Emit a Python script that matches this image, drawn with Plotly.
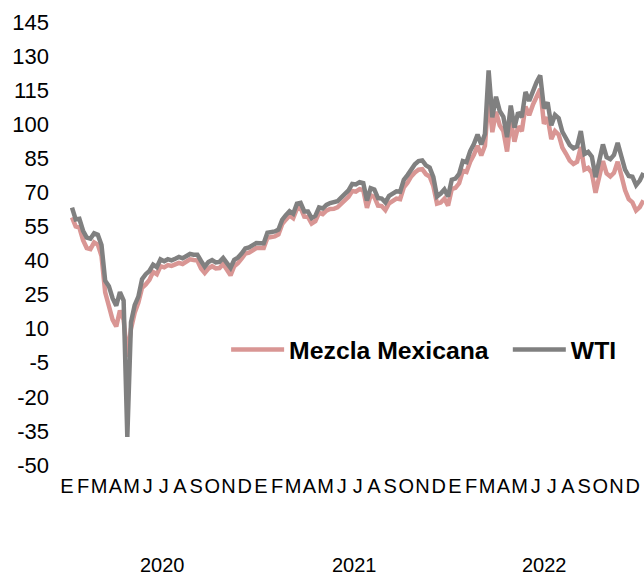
import pandas as pd
import plotly.graph_objects as go

# Weekly (Monday) observations, Jan 2020 - Dec 2022
dates = pd.date_range("2020-01-06", "2022-12-26", freq="W-MON")

wti = [
    # 2020
    63.3, 58.1, 58.4, 53.1, 50.1, 49.6, 52.0, 51.4, 46.8, 31.1, 28.7, 23.4, 20.1,
    26.1, 22.4, -37.6, 12.8, 20.4, 24.1, 31.8, 34.0, 35.4, 38.2, 37.1, 40.5, 39.7,
    40.6, 40.1, 40.8, 41.6, 41.0, 41.9, 42.9, 42.6, 42.6, 39.8, 37.3, 39.3, 40.2,
    39.2, 39.4, 41.1, 38.6, 36.8, 40.3, 41.3, 43.1, 45.3, 45.8, 46.9, 47.7, 47.6,
    # 2021
    47.6, 52.2, 52.4, 52.8, 53.6, 57.9, 60.0, 61.7, 60.6, 65.0, 65.4, 61.6, 61.6,
    58.7, 59.7, 63.4, 62.9, 64.5, 65.3, 65.5, 66.1, 67.7, 69.2, 70.9, 73.7, 73.5,
    74.5, 74.1, 66.4, 71.9, 71.3, 67.5, 67.3, 65.6, 68.5, 69.3, 70.5, 70.3, 75.5,
    77.6, 80.5, 82.4, 83.8, 84.1, 81.9, 80.9, 76.8, 68.2, 69.5, 71.3, 68.2, 75.6,
    # 2022
    76.1, 78.2, 83.8, 83.3, 88.2, 91.3, 95.5, 91.1, 95.7, 123.7, 103.0, 112.1, 105.9,
    103.3, 94.3, 108.2, 98.5, 105.2, 103.1, 114.2, 110.3, 115.0, 118.5, 121.5, 107.0,
    109.6, 99.5, 104.1, 102.6, 96.7, 93.9, 90.8, 89.4, 90.2, 97.0, 86.9, 87.8, 85.7,
    76.7, 83.6, 91.1, 85.5, 84.6, 86.5, 91.8, 85.9, 80.0, 77.2, 76.9, 73.2, 75.2, 78.5,
]

mezcla = [
    # 2020
    59.0, 55.0, 54.5, 49.0, 45.5, 45.0, 48.0, 47.0, 42.0, 26.0, 20.0, 14.0, 11.0,
    18.0, 14.0, -2.4, 10.0, 17.0, 21.5, 28.0, 29.5, 31.5, 35.0, 34.0, 37.5, 37.0,
    38.0, 37.6, 38.3, 39.0, 38.5, 39.3, 40.5, 40.2, 40.0, 36.5, 34.5, 36.5, 37.5,
    36.5, 36.7, 38.5, 35.8, 33.5, 37.5, 38.8, 40.8, 43.0, 43.5, 44.7, 45.5, 45.5,
    # 2021
    45.5, 50.0, 50.3, 50.6, 51.5, 56.0, 58.0, 59.8, 58.6, 62.8, 63.2, 59.3, 59.2,
    56.3, 57.3, 61.0, 60.4, 62.0, 62.7, 62.8, 63.4, 65.0, 66.4, 68.0, 70.6, 70.3,
    71.4, 71.0, 63.2, 68.7, 68.0, 64.2, 64.0, 62.2, 65.2, 66.0, 67.3, 67.0, 72.2,
    74.2, 77.0, 78.8, 80.0, 80.2, 78.0, 77.0, 72.8, 65.0, 65.5, 67.2, 64.2, 71.5,
    # 2022
    72.0, 74.0, 79.5, 79.0, 83.5, 86.5, 90.5, 86.2, 90.5, 112.5, 96.5, 105.5, 99.5,
    97.0, 88.0, 101.8, 92.3, 99.0, 97.0, 107.8, 104.0, 108.5, 112.0, 115.5, 100.2,
    103.0, 93.5, 97.0, 95.4, 89.7, 87.0, 84.0, 82.5, 83.5, 90.0, 80.0, 80.8, 78.5,
    69.8, 76.5, 83.8, 78.3, 77.0, 78.6, 83.5, 77.5, 71.0, 67.0, 65.6, 62.0, 63.5, 66.5,
]

month_letters = ["E", "F", "M", "A", "M", "J", "J", "A", "S", "O", "N", "D"] * 3
year_labels = ["2020", "2021", "2022"]
year_pos = [0.1735, 0.5034, 0.8282]   # paper-x centres of the year labels
y_ticks = list(range(-50, 146, 15))
y_ticktext = [str(v) for v in y_ticks]

axis_start = pd.Timestamp("2019-12-18")
axis_end = pd.Timestamp("2022-12-27")
span = axis_end - axis_start
# month letters are evenly spread across the axis (one slot per month)
month_ticks = [axis_start + span * ((i + 0.3) / 36) for i in range(36)]

PINK = "#D99694"
GREY = "#808080"

fig = go.Figure()
fig.add_trace(go.Scatter(x=dates, y=mezcla, mode="lines", name="Mezcla Mexicana",
                         line=dict(color=PINK, width=4.5), legend="legend"))
fig.add_trace(go.Scatter(x=dates, y=wti, mode="lines", name="WTI",
                         line=dict(color=GREY, width=4.5), legend="legend2"))

for lab, xp in zip(year_labels, year_pos):
    fig.add_annotation(x=xp, y=-0.2257, xref="paper", yref="paper", text=lab,
                       showarrow=False, yanchor="middle", xanchor="center",
                       font=dict(size=20, color="black", family="Liberation Sans, Arial"))

legend_font = dict(size=24.75, color="black", family="Liberation Sans, Arial, sans-serif",
                   weight="bold")

fig.update_layout(
    width=644, height=575,
    margin=dict(l=62, r=0, t=22, b=110, autoexpand=False),
    paper_bgcolor="white", plot_bgcolor="white",
    font=dict(family="Liberation Sans, Arial, Helvetica, sans-serif", color="black"),
    showlegend=True,
    legend=dict(orientation="h", x=0.282, y=0.26, xanchor="left", yanchor="middle",
                font=legend_font, itemwidth=53, bgcolor="rgba(0,0,0,0)"),
    legend2=dict(orientation="h", x=0.766, y=0.26, xanchor="left", yanchor="middle",
                 font=legend_font, itemwidth=53, bgcolor="rgba(0,0,0,0)"),
    xaxis=dict(range=[axis_start, axis_end], showgrid=False, zeroline=False,
               showline=False, tickmode="array", tickvals=month_ticks, ticktext=month_letters,
               tickangle=0, ticks="", ticklabelstandoff=7, automargin=False,
               tickfont=dict(size=20, family="Liberation Sans, Arial")),
    yaxis=dict(range=[-50, 145], showgrid=False, zeroline=False, showline=False,
               tickmode="array", tickvals=y_ticks, ticktext=y_ticktext, ticks="",
               ticklabelstandoff=12, automargin=False,
               tickfont=dict(size=22)),
)

# remove the default page margin so the figure fills the window exactly
fig.write_html("out.html",
               config={"displayModeBar": False},
               post_script="document.body.style.margin='0';document.body.style.overflow='hidden';")
